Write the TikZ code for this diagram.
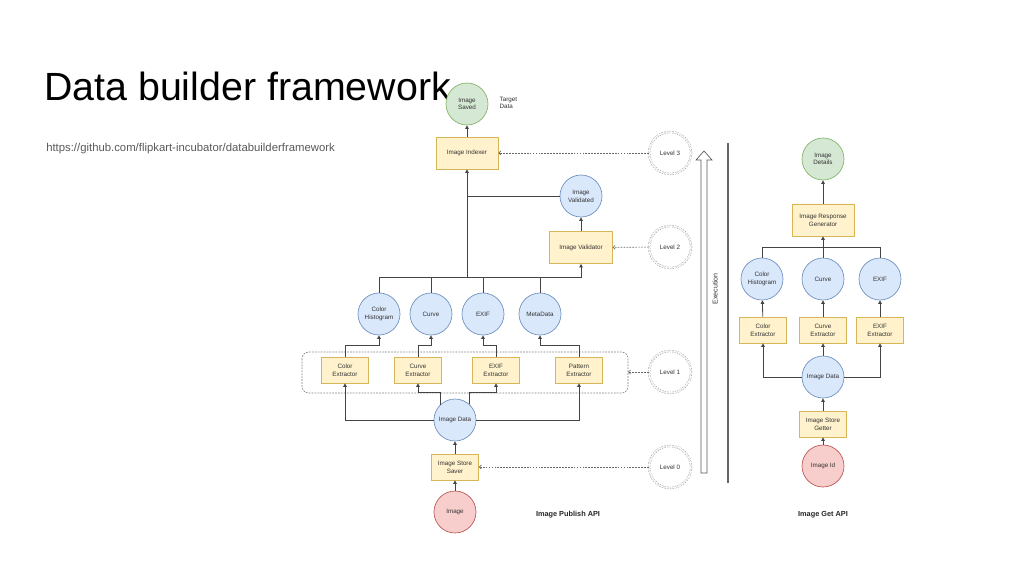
\documentclass[tikz,border=0pt]{standalone}
\usepackage{fontspec}
\setmainfont{Liberation Sans}
\usetikzlibrary{arrows.meta,calc}
\definecolor{gfill}{HTML}{D5E8D4}\definecolor{gdraw}{HTML}{82B366}
\definecolor{yfill}{HTML}{FFF2CC}\definecolor{ydraw}{HTML}{D6B656}
\definecolor{bfill}{HTML}{DAE8FC}\definecolor{bdraw}{HTML}{6C8EBF}
\definecolor{rfill}{HTML}{F8CECC}\definecolor{rdraw}{HTML}{B85450}
\definecolor{linec}{HTML}{444444}
\definecolor{txt}{HTML}{333333}
\begin{document}
\begin{tikzpicture}[x=0.75pt,y=-0.75pt,
  small/.style={font=\fontsize{4.7}{5.8}\selectfont, text=txt, align=center},
  circ/.style={small, circle, minimum size=31.5pt, inner sep=0pt, line width=0.5pt},
  gcirc/.style={circ, fill=gfill, draw=gdraw},
  bcirc/.style={circ, fill=bfill, draw=bdraw},
  rcirc/.style={circ, fill=rfill, draw=rdraw},
  ybox/.style={small, rectangle, fill=yfill, draw=ydraw, line width=0.5pt, inner sep=0pt},
  bigbox/.style={ybox, minimum width=46.5pt, minimum height=24pt},
  exbox/.style={ybox, minimum width=35.25pt, minimum height=19.5pt},
  level/.style={small, circle, minimum size=31.5pt, inner sep=0pt, draw=gray!85, dash pattern=on 1pt off 1pt, line width=0.3pt, double=white, double distance=1.1pt, fill=white},
  conn/.style={draw=linec, line width=0.6pt},
  arr/.style={conn, -{Triangle[length=2.6pt,width=2.6pt]}},
  larr/.style={draw=gray!80!black, dash pattern=on 1.3pt off 0.9pt, line width=0.45pt, -{Straight Barb[length=1.6pt,width=3pt]}},
  api/.style={font=\fontsize{5.5}{6.5}\selectfont\bfseries, text=black!85}
]
\useasboundingbox (0,0) rectangle (1024,576);

% title
\node[anchor=base west, font=\fontsize{29.5}{34}\selectfont, inner sep=0pt] (title) at (44,100) {Data builder framework};
\node[anchor=base west, font=\fontsize{8.5}{10}\selectfont, text=black!65, inner sep=0pt] (url) at (46,151) {https://github.com/flipkart-incubator/databuilderframework};

% ===== Publish API =====
\node[gcirc] (saved) at (467,104) {Image\\Saved};
\node[small, anchor=west, align=left] (target) at (495,103) {Target\\Data};
\node[bigbox, minimum width=46.5pt] (indexer) at (467,153) {Image Indexer};
\node[bcirc] (validated) at (581,196) {Image\\Validated};
\node[bigbox, minimum width=47pt] (validator) at (581,247.5) {Image Validator};

\node[bcirc] (ch) at (379,314) {Color\\Histogram};
\node[bcirc] (cv) at (431,314) {Curve};
\node[bcirc] (ex) at (483,314) {EXIF};
\node[bcirc] (md) at (540,314) {MetaData};

\node[exbox] (ce) at (345,370) {Color\\Extractor};
\node[exbox] (cxe) at (418,370) {Curve\\Extractor};
\node[exbox] (ee) at (496,370) {EXIF\\Extractor};
\node[exbox] (pe) at (579,370) {Pattern\\Extractor};

\draw[gray, dash pattern=on 1.3pt off 0.9pt, line width=0.45pt, rounded corners=5pt] (302,352) rectangle (628,393);
\coordinate (grp) at (628,372);

\node[bcirc] (data) at (455,420) {Image Data};
\node[exbox] (saver) at (455,467) {Image Store\\Saver};
\node[rcirc] (img) at (455,512) {Image};
\node[api] (pubapi) at (568,515) {Image Publish API};

\node[level] (l3) at (670,153) {Level 3};
\node[level] (l2) at (670,247) {Level 2};
\node[level] (l1) at (670,372) {Level 1};
\node[level] (l0) at (670,467) {Level 0};

\draw[larr] (l3) -- (indexer);
\draw[larr] (l2) -- (validator);
\draw[larr] (l1) -- (grp);
\draw[larr] (l0) -- (saver);

\draw[arr] (indexer) -- (saved);
\draw[arr] (validator) -- (validated);
\coordinate (bus) at (581,277);
\coordinate (busi) at (467,277);
\draw[arr] (ch.north) |- (bus) -- (validator.south);
\draw[conn] (cv.north) -- (cv.north |- bus);
\draw[conn] (ex.north) -- (ex.north |- bus);
\draw[conn] (md.north) -- (md.north |- bus);
\draw[arr] (busi) -- (indexer.south);
\draw[conn] (validated.west) -- (validated.west -| busi);

\draw[arr] (ce.north) -- ++(0,-11) -| (ch.south);
\draw[arr] (cxe.north) -- ++(0,-11) -| (cv.south);
\draw[arr] (ee.north) -- ++(0,-11) -| (ex.south);
\draw[arr] (pe.north) -- ++(0,-11) -| (md.south);

\draw[arr] (data.west) -| (ce.south);
\draw[arr] (data.east) -| (pe.south);
\coordinate (k1) at (418,392);
\coordinate (k2) at (496,392);
\draw[arr] (data.134) |- (k1) -- (cxe.south);
\draw[arr] (data.48) |- (k2) -- (ee.south);
\draw[arr] (saver) -- (data);
\draw[arr] (img) -- (saver);

% execution arrow
\draw[gray!70!black, line width=0.5pt, fill=white] (701,473) -- (701,160) -- (696,160) -- (704,151) -- (712,160) -- (707,160) -- (707,473) -- cycle;
\node[small, rotate=90, font=\fontsize{5.3}{6}\selectfont] (exec) at (715,289) {Execution};

% separator
\draw[black!60, line width=1.4pt] (728,143) -- (728,483);

% ===== Get API =====
\node[gcirc] (details) at (823,159) {Image\\Details};
\node[bigbox, minimum width=46.5pt] (gen) at (823,220) {Image Response\\Generator};
\node[bcirc] (rch) at (762,279) {Color\\Histogram};
\node[bcirc] (rcv) at (823,279) {Curve};
\node[bcirc] (rex) at (880,279) {EXIF};
\node[exbox] (rce) at (763,330) {Color\\Extractor};
\node[exbox] (rcxe) at (823,330) {Curve\\Extractor};
\node[exbox] (ree) at (880,330) {EXIF\\Extractor};
\node[bcirc] (rdata) at (823,377) {Image Data};
\node[exbox] (getter) at (823,424) {Image Store\\Getter};
\node[rcirc] (imgid) at (823,466) {Image Id};
\node[api] (getapi) at (823,515) {Image Get API};

\draw[arr] (gen) -- (details);
\coordinate (rbus) at (823,247);
\draw[arr] (rch.north) |- (rbus) -- (gen.south);
\draw[conn] (rex.north) |- (rbus);
\draw[conn] (rcv.north) -- (rbus);
\draw[arr] (rce) -- (rch);
\draw[arr] (rcxe) -- (rcv);
\draw[arr] (ree) -- (rex);
\draw[arr] (rdata.west) -| (rce.south);
\draw[arr] (rdata.east) -| (ree.south);
\draw[arr] (rdata) -- (rcxe);
\draw[arr] (getter) -- (rdata);
\draw[arr] (imgid) -- (getter);
\end{tikzpicture}
\end{document}
